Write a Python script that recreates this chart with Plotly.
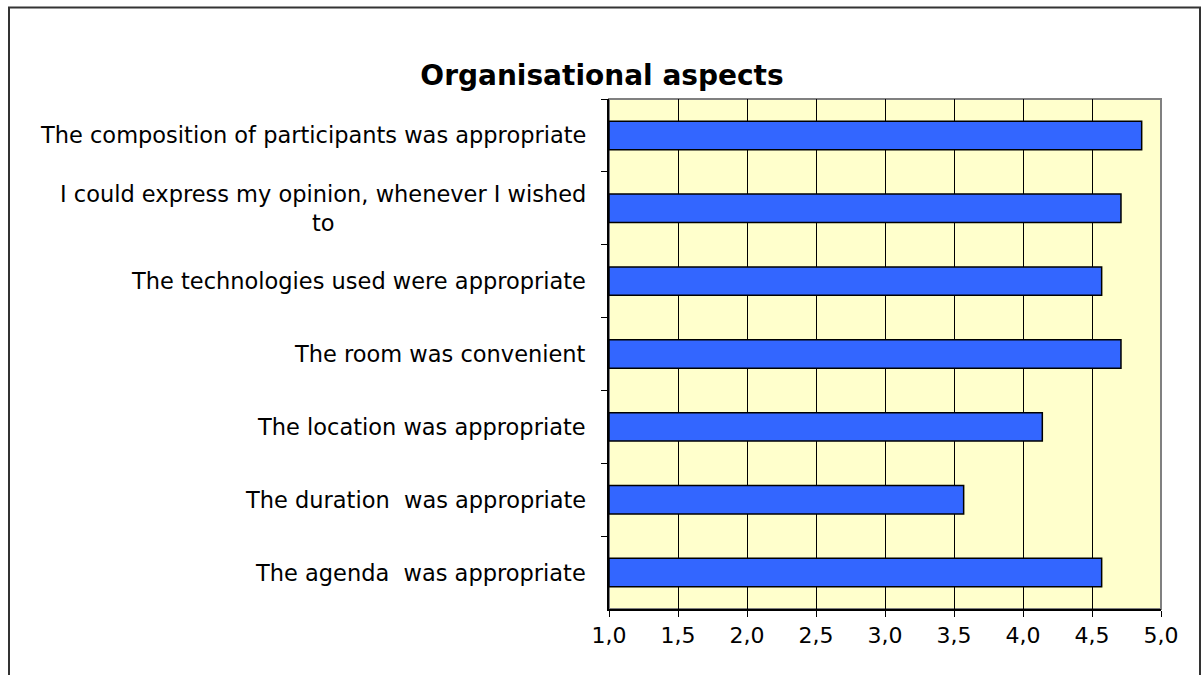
import plotly.graph_objects as go

# survey items, top to bottom as in the chart
statements = [
    "The composition of participants was appropriate",
    "I could express my opinion, whenever I wished<br>to",
    "The technologies used were appropriate",
    "The room was convenient",
    "The location was appropriate",
    "The duration  was appropriate",
    "The agenda  was appropriate",
]
mean_scores = [4.86, 4.71, 4.57, 4.71, 4.14, 3.57, 4.57]
x_ticks = [1.0, 1.5, 2.0, 2.5, 3.0, 3.5, 4.0, 4.5, 5.0]

W, H = 1202, 675
M_L, M_R, M_T, M_B = 609, 41, 99, 66
PW = W - M_L - M_R
PH = H - M_T - M_B

FONT = "DejaVu Sans, Arial, sans-serif"

fig = go.Figure()
fig.add_bar(
    y=statements, x=[v - 1.0 for v in mean_scores], base=1.0,
    orientation="h", width=0.39,
    marker=dict(color="#3366FF", line=dict(color="black", width=1.5)),
    showlegend=False, hoverinfo="skip",
)

# category labels as annotations so the wrapped one is centred like in Excel
for s in statements:
    fig.add_annotation(x=0, xref="paper", y=s, yref="y", text=s,
                       xanchor="right", xshift=-21, align="center",
                       showarrow=False, font=dict(family=FONT, size=22.5, color="black"))

# grey plot-area border (top/right), axes lines drawn black on top
fig.add_shape(type="rect", xref="paper", yref="paper", x0=0, x1=1, y0=0, y1=1,
              line=dict(color="#808080", width=2), layer="below")
# outer chart frame (bottom edge is off the page)
fig.add_shape(type="rect", xref="paper", yref="paper",
              x0=(9 - M_L) / PW, x1=(1200 - M_L) / PW,
              y0=-(H + 20 - M_T - PH) / PH, y1=1 + (M_T - 7.5) / PH,
              line=dict(color="#333333", width=2))

fig.update_layout(
    width=W, height=H, autosize=False,
    margin=dict(l=M_L, r=M_R, t=M_T, b=M_B),
    paper_bgcolor="white", plot_bgcolor="#FFFFCC",
    separators=",.",
    title=dict(text="<b>Organisational aspects</b>", x=602 / W, xanchor="center",
               y=1 - 75 / H, yanchor="middle",
               font=dict(family=FONT, size=28, color="black")),
    font=dict(family=FONT, size=22, color="black"),
)
fig.update_xaxes(range=[1.0, 5.0], tickvals=x_ticks, tickformat=".1f",
                 showgrid=True, gridcolor="black", gridwidth=1,
                 showline=True, linecolor="black", linewidth=1.5,
                 ticks="outside", ticklen=6, tickcolor="black",
                 zeroline=False, fixedrange=True)
fig.update_yaxes(autorange="reversed", showticklabels=False,
                 tickson="boundaries", ticks="outside", ticklen=6, tickcolor="black",
                 showline=True, linecolor="black", linewidth=1.5,
                 showgrid=False, fixedrange=True)

# drop the default body margin so the figure fills the window exactly
fig.write_html("out.html", config={"displayModeBar": False},
               post_script="document.body.style.margin='0';document.body.style.overflow='hidden';")
